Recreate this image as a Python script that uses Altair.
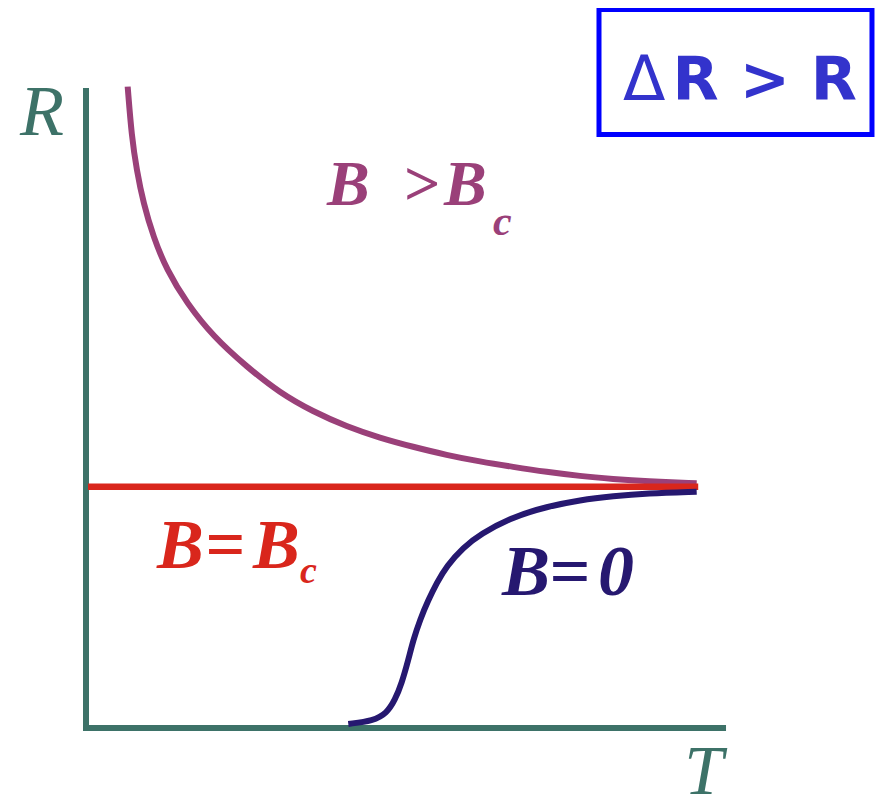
import altair as alt
import pandas as pd

# ---- data (T, R units: red line R = 1, curves meet at T = 10) ----
above_T = [0.682, 0.748, 0.830, 0.938, 1.101, 1.321, 1.648, 2.083, 2.630, 3.175, 3.715,
           4.267, 4.812, 5.352, 5.903, 6.449, 6.989, 7.540, 8.085, 8.625, 9.177, 9.995]
above_R = [2.658, 2.450, 2.312, 2.176, 2.036, 1.898, 1.761, 1.622, 1.497, 1.388, 1.311,
           1.249, 1.202, 1.165, 1.131, 1.104, 1.082, 1.061, 1.044, 1.032, 1.022, 1.014]

zero_T = [4.293, 4.702, 4.921, 5.057, 5.167, 5.275, 5.357, 5.466, 5.602, 5.738, 5.903,
          6.175, 6.449, 6.993, 7.540, 8.085, 8.630, 9.177, 9.995]
zero_R = [0.017, 0.030, 0.061, 0.116, 0.185, 0.282, 0.365, 0.448, 0.530, 0.600, 0.672,
          0.748, 0.803, 0.876, 0.917, 0.945, 0.961, 0.972, 0.979]

crit_T = [0.033, 10.02]
crit_R = [1.0, 1.0]

x_dom = [-1.2766, 12.9133]
y_dom = [-0.3025, 2.9838]

TEAL = "#3d7268"
PURPLE = "#9a4079"
RED = "#d9261c"
NAVY = "#261870"
BOXTXT = "#3333cc"

xs = alt.Scale(domain=x_dom, nice=False, zero=False)
ys = alt.Scale(domain=y_dom, nice=False, zero=False)


def X(f="T"):
    return alt.X(f"{f}:Q", scale=xs, axis=None)


def Y(f="R"):
    return alt.Y(f"{f}:Q", scale=ys, axis=None)


# axes
vaxis = alt.Chart(pd.DataFrame({"T": [0.0], "R": [-0.0124], "R2": [2.652]})).mark_rule(
    color=TEAL, strokeWidth=6, strokeCap="butt").encode(x=X(), y=Y(), y2="R2:Q")
haxis = alt.Chart(pd.DataFrame({"T": [-0.049], "T2": [10.475], "R": [0.0]})).mark_rule(
    color=TEAL, strokeWidth=6, strokeCap="butt").encode(x=X(), x2="T2:Q", y=Y())

above_df = pd.DataFrame({"T": above_T, "R": above_R, "i": range(len(above_T))})
zero_df = pd.DataFrame({"T": zero_T, "R": zero_R, "i": range(len(zero_T))})
crit_df = pd.DataFrame({"T": crit_T, "R": crit_R, "i": range(len(crit_T))})

above = alt.Chart(above_df).mark_line(color=PURPLE, strokeWidth=6, interpolate="basis").encode(
    x=X(), y=Y(), order="i:O")
zero = alt.Chart(zero_df).mark_line(color=NAVY, strokeWidth=6, interpolate="basis").encode(
    x=X(), y=Y(), order="i:O")
crit = alt.Chart(crit_df).mark_line(color=RED, strokeWidth=6.5, strokeCap="butt").encode(
    x=X(), y=Y(), order="i:O")

# box
box = alt.Chart(pd.DataFrame({"T": [8.396], "T2": [12.864], "R": [2.460], "R2": [2.978]})).mark_rect(
    filled=False, stroke="#0000ff", strokeWidth=5).encode(x=X(), x2="T2:Q", y=Y(), y2="R2:Q")


def label(txt, t, r, size, color, italic=True, font="Liberation Serif", align="left", weight="normal"):
    return alt.Chart(pd.DataFrame({"T": [t], "R": [r], "txt": [txt]})).mark_text(
        align=align, baseline="alphabetic", font=font, fontSize=size,
        fontStyle="italic" if italic else "normal", fontWeight=weight, color=color
    ).encode(x=X(), y=Y(), text="txt:N")


texts = [
    label("R", -1.080, 2.457, 72, TEAL),
    label("T", 9.790, -0.2735, 70, TEAL),
    label("B", 3.945, 2.167, 64, PURPLE, weight="bold"),
    label(">", 5.180, 2.167, 64, PURPLE, weight="bold"),
    label("B", 5.860, 2.167, 64, PURPLE, weight="bold"),
    label("c", 6.661, 2.043, 42, PURPLE, weight="bold"),
    label("B", 1.162, 0.663, 70, RED, weight="bold"),
    label("=", 1.948, 0.663, 70, RED, weight="bold"),
    label("B", 2.733, 0.663, 70, RED, weight="bold"),
    label("c", 3.502, 0.601, 38, RED, weight="bold"),
    label("B", 6.809, 0.551, 72, NAVY, weight="bold"),
    label("=", 7.578, 0.551, 72, NAVY, weight="bold"),
    label("0", 8.380, 0.551, 72, NAVY, weight="bold"),
    label("Δ", 8.789, 2.603, 62, BOXTXT, italic=False, font="DejaVu Sans"),
    label("R > R", 9.600, 2.603, 60, BOXTXT, italic=False, font="DejaVu Sans", weight="bold"),
]

chart = alt.layer(vaxis, haxis, above, crit, zero, box, *texts).properties(
    width=867, height=793, autosize=alt.AutoSizeParams(type="none"), padding=0
).configure_view(stroke=None)

chart.save("out.html", embed_options={"renderer": "svg", "actions": False})
